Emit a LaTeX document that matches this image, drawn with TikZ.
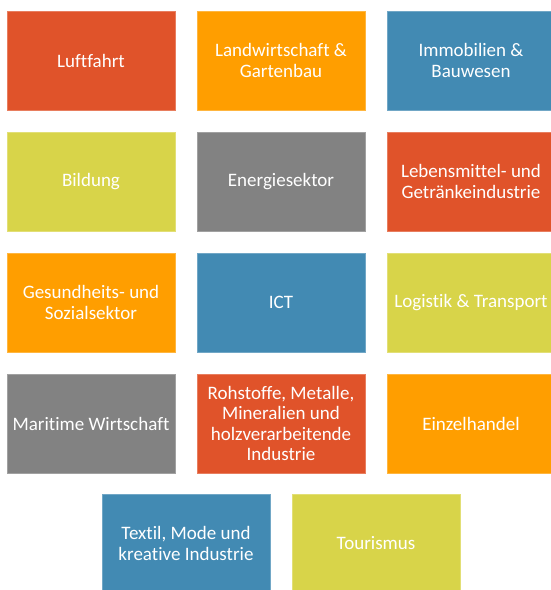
\documentclass[tikz,border=0pt]{standalone}
\usepackage{fontspec}
\setmainfont{Carlito}[Ligatures=NoCommon]
\definecolor{cRed}{HTML}{E0532A}
\definecolor{cOrange}{HTML}{FF9E00}
\definecolor{cBlue}{HTML}{428AB3}
\definecolor{cLime}{HTML}{D8D449}
\definecolor{cGray}{HTML}{828282}
\begin{document}
\begin{tikzpicture}[x=1pt,y=-1pt,
  tile/.style={minimum width=168pt,minimum height=99pt,inner sep=1pt,
    text=white,align=center,font=\fontsize{19}{20.5}\selectfont,line width=0.6pt},
  red/.style={tile,fill=cRed,draw=cRed!75!white},
  orange/.style={tile,fill=cOrange,draw=cOrange!75!white},
  blue/.style={tile,fill=cBlue,draw=cBlue!75!white},
  lime/.style={tile,fill=cLime,draw=cLime!75!white},
  gray/.style={tile,fill=cGray,draw=cGray!75!white}]
\useasboundingbox (0,0) rectangle (550,590);
\node[red]    (n1)  at (91,60.5)  {Luftfahrt};
\node[orange] (n2)  at (281,60.5) {Landwirtschaft \&\\Gartenbau};
\node[blue]   (n3)  at (471,60.5) {Immobilien \&\\Bauwesen};
\node[lime]   (n4)  at (91,181.5)  {Bildung};
\node[gray]   (n5)  at (281,181.5) {Energiesektor};
\node[red]    (n6)  at (471,181.5) {Lebensmittel- und\\Getränkeindustrie};
\node[orange] (n7)  at (91,302.5)  {Gesundheits- und\\Sozialsektor};
\node[blue]   (n8)  at (281,302.5) {ICT};
\node[lime]   (n9)  at (471,302.5) {Logistik \& Transport};
\node[gray]   (n10) at (91,423.5)  {Maritime Wirtschaft};
\node[red]    (n11) at (281,423.5) {Rohstoffe, Metalle,\\Mineralien und\\holzverarbeitende\\Industrie};
\node[orange] (n12) at (471,423.5) {Einzelhandel};
\node[blue]   (n13) at (186,543.5) {Textil, Mode und\\kreative Industrie};
\node[lime]   (n14) at (376,543.5) {Tourismus};
\end{tikzpicture}
\end{document}
